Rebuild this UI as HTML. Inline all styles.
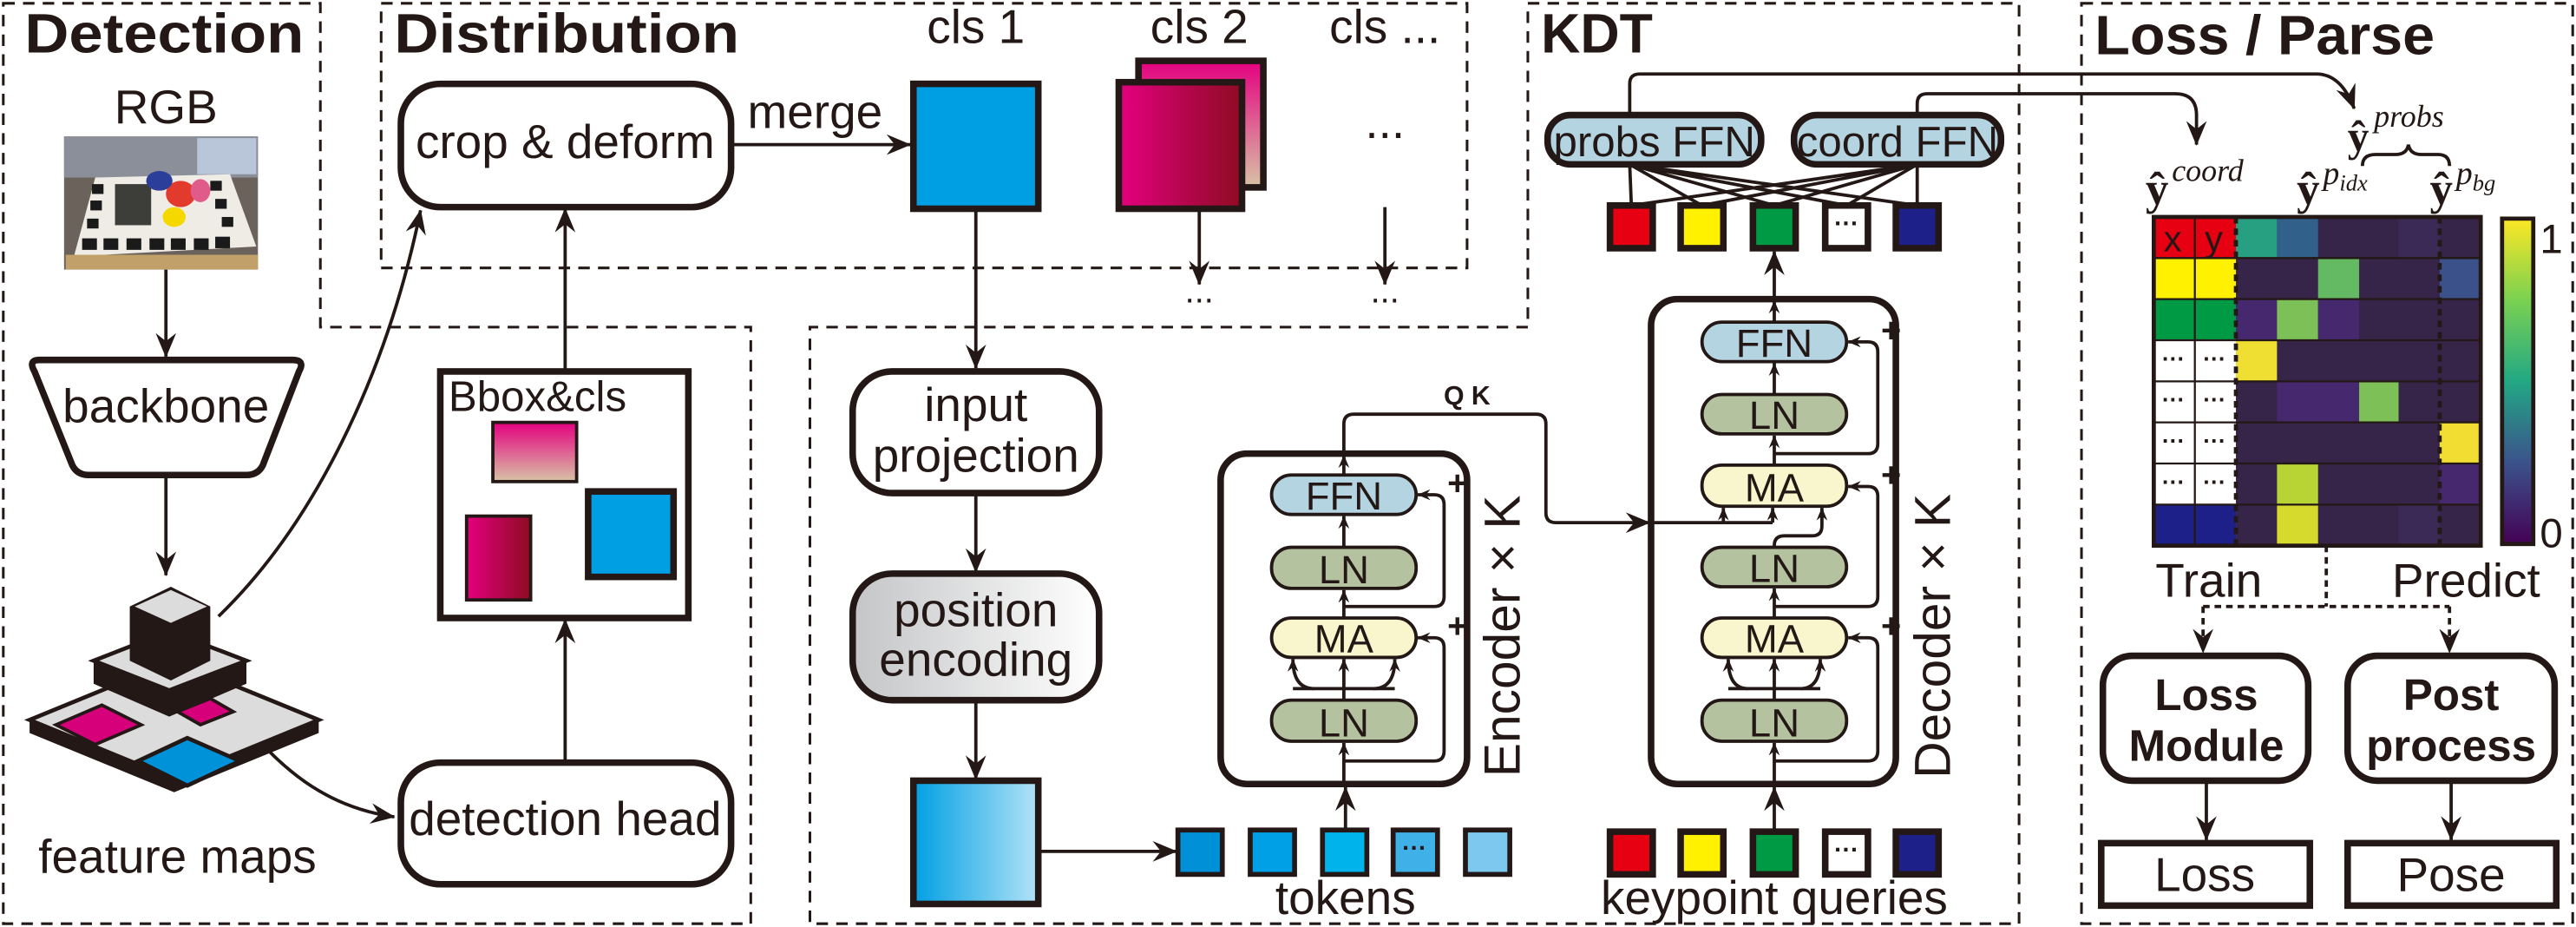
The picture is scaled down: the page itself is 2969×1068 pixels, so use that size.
<!DOCTYPE html>
<html><head><meta charset="utf-8"><style>
html,body{margin:0;padding:0;background:#fff}
svg{display:block}
text{font-family:"Liberation Sans",sans-serif;fill:#231815}
.t{font-weight:bold;font-size:34px}
.l{font-size:29px}
.b{font-size:21px}
.k{font-size:24px}
.p{font-size:21px;font-weight:bold}
</style></head><body>
<svg width="2969" height="1068" viewBox="0 0 1568 564" xmlns="http://www.w3.org/2000/svg">
<defs>
<marker id="a" viewBox="0 0 12 10" refX="11.5" refY="5" markerWidth="15" markerHeight="13" markerUnits="userSpaceOnUse" orient="auto"><path d="M0,0 L12,5 L0,10 L4,5z" fill="#231815"/></marker>
<marker id="s" viewBox="0 0 12 10" refX="11.5" refY="5" markerWidth="8" markerHeight="7" markerUnits="userSpaceOnUse" orient="auto"><path d="M0,0 L12,5 L0,10 L4,5z" fill="#231815"/></marker>
<linearGradient id="gm" x1="0" y1="0" x2="1" y2="0"><stop offset="0" stop-color="#e4007f"/><stop offset="1" stop-color="#8e0b22"/></linearGradient>
<linearGradient id="gt" x1="0" y1="0" x2="0" y2="1"><stop offset="0" stop-color="#e4007f"/><stop offset="1" stop-color="#d8c3a6"/></linearGradient>
<linearGradient id="gb" x1="0" y1="0" x2="1" y2="0"><stop offset="0" stop-color="#009fe3"/><stop offset="1" stop-color="#b3e3f7"/></linearGradient>
<linearGradient id="gp" x1="0" y1="0" x2="1" y2="0"><stop offset="0" stop-color="#c4c5c7"/><stop offset="1" stop-color="#fff"/></linearGradient>
<linearGradient id="gv" x1="0" y1="0" x2="0" y2="1"><stop offset="0" stop-color="#fde725"/><stop offset=".25" stop-color="#7ad151"/><stop offset=".5" stop-color="#22a884"/><stop offset=".75" stop-color="#3b528b"/><stop offset="1" stop-color="#440154"/></linearGradient>
</defs>
<g fill="none" stroke="#231815" stroke-width="1.6" stroke-dasharray="7,5">
<path d="M2,2 H195 V199 H457 V562 H2 Z"/>
<rect x="232" y="2" width="661" height="161"/>
<path d="M930,2 H1229 V562 H493 V199 H930 Z"/>
<rect x="1267" y="2" width="299" height="560"/>
</g>
<text class="t" x="15" y="32" textLength="170" lengthAdjust="spacingAndGlyphs">Detection</text>
<text class="t" x="240" y="32" textLength="210" lengthAdjust="spacingAndGlyphs">Distribution</text>
<text class="t" x="938" y="32" textLength="68" lengthAdjust="spacingAndGlyphs">KDT</text>
<text class="t" x="1275" y="33" textLength="207" lengthAdjust="spacingAndGlyphs">Loss / Parse</text>

<!-- Detection -->
<text class="l" x="101" y="75" text-anchor="middle">RGB</text>
<g>
<rect x="39" y="83" width="118" height="81" fill="#6b625c"/>
<rect x="39" y="83" width="118" height="25" fill="#8a8f99"/>
<rect x="120" y="84" width="36" height="22" fill="#b9c5d8"/>
<polygon points="58,108 140,106 156,150 45,156" fill="#efece6"/>
<g fill="#1a1a1a"><rect x="50" y="145" width="9" height="7"/><rect x="63" y="145" width="9" height="7"/><rect x="77" y="145" width="9" height="7"/><rect x="91" y="145" width="9" height="7"/><rect x="104" y="145" width="9" height="7"/><rect x="118" y="145" width="9" height="7"/><rect x="131" y="144" width="9" height="7"/><rect x="56" y="112" width="7" height="6"/><rect x="55" y="122" width="7" height="6"/><rect x="53" y="133" width="7" height="6"/><rect x="128" y="110" width="7" height="6"/><rect x="131" y="121" width="7" height="6"/><rect x="135" y="132" width="7" height="6"/></g>
<rect x="70" y="112" width="22" height="25" fill="#3d3d3a"/>
<ellipse cx="110" cy="118" rx="9" ry="8" fill="#e23a2c"/>
<ellipse cx="106" cy="132" rx="7" ry="6" fill="#f5d800"/>
<ellipse cx="97" cy="110" rx="8" ry="6" fill="#2b3f9a"/>
<ellipse cx="122" cy="116" rx="6" ry="7" fill="#e05a8a"/>
<rect x="40" y="155" width="117" height="9" fill="#c2a06a"/>
</g>
<g stroke="#231815" stroke-width="2" fill="none">
<path d="M101,164 V217" marker-end="url(#a)"/>
<path d="M101,289 V350" marker-end="url(#a)"/>
<path d="M133,375 C190,320 235,230 256,128" marker-end="url(#a)"/>
<path d="M158,451 C180,475 205,492 240,497" marker-end="url(#a)"/>
<path d="M344,226 V127" marker-end="url(#a)"/>
<path d="M344,464 V377" marker-end="url(#a)"/>
<path d="M445,88 H554" marker-end="url(#a)"/>
<path d="M594,127 V224" marker-end="url(#a)"/>
<path d="M730,127 V173" marker-end="url(#a)"/>
<path d="M843,126 V173" marker-end="url(#a)"/>
<path d="M594,300 V348" marker-end="url(#a)"/>
<path d="M594,426 V474" marker-end="url(#a)"/>
<path d="M632,518 H716" marker-end="url(#a)"/>
</g>
<path d="M24,219 H178 Q186,219 182,226 L160,283 Q157,289 150,289 H54 Q47,289 44,283 L21,226 Q17,219 24,219 Z" fill="#fff" stroke="#231815" stroke-width="4"/>
<text class="l" x="101" y="257" text-anchor="middle">backbone</text>
<!-- feature maps -->
<polygon points="18,438 106,402 194,438 194,446 106,482 18,446" fill="#231815"/>
<polygon points="18,438 106,402 194,438 106,474" fill="#dcdcdc" stroke="#231815" stroke-width="2.5"/>
<polygon points="34,441 62,429 86,441 58,453" fill="#d6007a" stroke="#231815" stroke-width="2"/>
<polygon points="108,433 128,425 142,433 122,441" fill="#d6007a" stroke="#231815" stroke-width="2"/>
<polygon points="84,463 114,449 146,463 114,478" fill="#0092d8" stroke="#231815" stroke-width="2.5"/>
<polygon points="57,402 103,384 150,402 150,416 103,436 57,416" fill="#231815"/>
<polygon points="57,402 103,384 150,402 103,420" fill="#dcdcdc" stroke="#231815" stroke-width="2.5"/>
<polygon points="79,369 104,357 128,369 128,402 104,414 79,402" fill="#231815"/>
<polygon points="82,369 104,359 126,369 104,379" fill="#dcdcdc"/>
<text class="l" x="108" y="531" text-anchor="middle">feature maps</text>

<!-- Distribution -->
<rect x="244" y="51" width="201" height="75" rx="24" fill="#fff" stroke="#231815" stroke-width="4"/>
<text class="l" x="344" y="96" text-anchor="middle">crop &amp; deform</text>
<text class="l" x="455" y="78">merge</text>
<text class="l" x="594" y="26" text-anchor="middle">cls 1</text>
<text class="l" x="730" y="26" text-anchor="middle">cls 2</text>
<text class="l" x="843" y="26" text-anchor="middle">cls ...</text>
<text class="l" x="843" y="84" text-anchor="middle">...</text>
<text class="b" x="730" y="184" text-anchor="middle">...</text>
<text class="b" x="843" y="184" text-anchor="middle">...</text>
<rect x="556" y="51" width="76" height="76" fill="#009fe3" stroke="#231815" stroke-width="4"/>
<rect x="693" y="37" width="76" height="77" fill="url(#gt)" stroke="#231815" stroke-width="4"/>
<rect x="681" y="50" width="75" height="77" fill="url(#gm)" stroke="#231815" stroke-width="4"/>

<rect x="268" y="226" width="151" height="150" fill="#fff" stroke="#231815" stroke-width="4"/>
<text x="273" y="250" style="font-size:26px">Bbox&amp;cls</text>
<rect x="300" y="257" width="51" height="36" fill="url(#gt)" stroke="#231815" stroke-width="2"/>
<rect x="284" y="314" width="39" height="51" fill="url(#gm)" stroke="#231815" stroke-width="2"/>
<rect x="358" y="299" width="52" height="52" fill="#009fe3" stroke="#231815" stroke-width="4"/>
<rect x="244" y="464" width="201" height="74" rx="24" fill="#fff" stroke="#231815" stroke-width="4"/>
<text class="l" x="344" y="508" text-anchor="middle">detection head</text>

<!-- middle -->
<rect x="519" y="226" width="150" height="74" rx="24" fill="#fff" stroke="#231815" stroke-width="4"/>
<text class="l" x="594" y="256" text-anchor="middle">input</text>
<text class="l" x="594" y="287" text-anchor="middle">projection</text>
<rect x="519" y="349" width="150" height="77" rx="24" fill="url(#gp)" stroke="#231815" stroke-width="4"/>
<text class="l" x="594" y="381" text-anchor="middle">position</text>
<text class="l" x="594" y="411" text-anchor="middle">encoding</text>
<rect x="556" y="475" width="76" height="75" fill="url(#gb)" stroke="#231815" stroke-width="4"/>
<g stroke="#231815" stroke-width="3">
<rect x="717" y="505" width="27" height="27" fill="#0090d8"/>
<rect x="761" y="505" width="27" height="27" fill="#00a0e6"/>
<rect x="805" y="505" width="27" height="27" fill="#00b4eb"/>
<rect x="848" y="505" width="27" height="27" fill="#40b0e8"/>
<rect x="892" y="505" width="27" height="27" fill="#7dc8ef"/>
</g>
<text x="861" y="521" text-anchor="middle" style="font-size:15px;font-weight:bold">···</text>
<text class="l" x="819" y="556" text-anchor="middle">tokens</text>

<!-- Encoder -->
<rect x="743" y="276" width="150" height="201" rx="16" fill="#fff" stroke="#231815" stroke-width="4"/>
<g stroke="#231815" stroke-width="2" fill="none">
<path d="M819,505 V479" marker-end="url(#a)"/>
<path d="M818,477 V452" marker-end="url(#s)"/>
<path d="M818,426 V401" marker-end="url(#s)"/>
<path d="M800,419 Q787,419 787,401" marker-end="url(#s)"/>
<path d="M836,419 Q849,419 849,401" marker-end="url(#s)"/>
<path d="M787,419 H849"/>
<path d="M818,376 V359" marker-end="url(#s)"/>
<path d="M818,333 V314" marker-end="url(#s)"/>
<path d="M818,289 V277" marker-end="url(#s)"/>
<path d="M818,277 V258 Q818,252 824,252 H935 Q941,252 941,258 V312 Q941,318 947,318 H1004" marker-end="url(#a)"/>
<path d="M818,463 H873 Q879,463 879,457 V394 Q879,388 873,388 H863" marker-end="url(#s)"/>
<path d="M818,369 H873 Q879,369 879,363 V307 Q879,301 873,301 H863" marker-end="url(#s)"/>
</g>
<g stroke="#231815" stroke-width="2">
<rect x="774" y="289" width="88" height="24" rx="12" fill="#b4d4e1"/>
<rect x="774" y="333" width="88" height="25" rx="12" fill="#b5c29f"/>
<rect x="774" y="376" width="88" height="24" rx="12" fill="#f9f5cd"/>
<rect x="774" y="426" width="88" height="25" rx="12" fill="#b5c29f"/>
</g>
<text class="k" x="818" y="310" text-anchor="middle">FFN</text>
<text class="k" x="818" y="355" text-anchor="middle">LN</text>
<text class="k" x="818" y="397" text-anchor="middle">MA</text>
<text class="k" x="818" y="448" text-anchor="middle">LN</text>
<text class="p" x="881" y="301">+</text>
<text class="p" x="881" y="388">+</text>
<text x="893" y="246" text-anchor="middle" style="font-size:16px;font-weight:bold">Q K</text>
<text transform="translate(925,387) rotate(-90)" text-anchor="middle" style="font-size:31px">Encoder × K</text>

<!-- Decoder -->
<rect x="1005" y="182" width="149" height="295" rx="16" fill="#fff" stroke="#231815" stroke-width="4"/>
<g stroke="#231815" stroke-width="2" fill="none">
<path d="M1080,505 V479" marker-end="url(#a)"/>
<path d="M1080,477 V452" marker-end="url(#s)"/>
<path d="M1080,426 V401" marker-end="url(#s)"/>
<path d="M1064,419 Q1052,419 1052,401" marker-end="url(#s)"/>
<path d="M1096,419 Q1108,419 1108,401" marker-end="url(#s)"/>
<path d="M1052,419 H1108"/>
<path d="M1080,376 V358" marker-end="url(#s)"/>
<path d="M1005,318 H1079"/>
<path d="M1049,318 V309" marker-end="url(#s)"/>
<path d="M1079,318 V309" marker-end="url(#s)"/>
<path d="M1080,333 V332 Q1080,326 1086,326 H1103 Q1109,326 1109,320 V309" marker-end="url(#s)"/>
<path d="M1080,283 V265" marker-end="url(#s)"/>
<path d="M1080,240 V221" marker-end="url(#s)"/>
<path d="M1080,196 V183" marker-end="url(#s)"/>
<path d="M1080,182 V153" marker-end="url(#a)"/>
<path d="M1080,463 H1137 Q1143,463 1143,457 V394 Q1143,388 1137,388 H1125" marker-end="url(#s)"/>
<path d="M1080,369 H1137 Q1143,369 1143,363 V302 Q1143,296 1137,296 H1125" marker-end="url(#s)"/>
<path d="M1080,276 H1137 Q1143,276 1143,270 V214 Q1143,208 1137,208 H1125" marker-end="url(#s)"/>
</g>
<g stroke="#231815" stroke-width="2">
<rect x="1036" y="196" width="88" height="24" rx="12" fill="#b4d4e1"/>
<rect x="1036" y="240" width="88" height="24" rx="12" fill="#b5c29f"/>
<rect x="1036" y="283" width="88" height="25" rx="12" fill="#f9f5cd"/>
<rect x="1036" y="333" width="88" height="24" rx="12" fill="#b5c29f"/>
<rect x="1036" y="376" width="88" height="24" rx="12" fill="#f9f5cd"/>
<rect x="1036" y="426" width="88" height="25" rx="12" fill="#b5c29f"/>
</g>
<text class="k" x="1080" y="217" text-anchor="middle">FFN</text>
<text class="k" x="1080" y="261" text-anchor="middle">LN</text>
<text class="k" x="1080" y="305" text-anchor="middle">MA</text>
<text class="k" x="1080" y="354" text-anchor="middle">LN</text>
<text class="k" x="1080" y="397" text-anchor="middle">MA</text>
<text class="k" x="1080" y="448" text-anchor="middle">LN</text>
<text class="p" x="1145" y="208">+</text>
<text class="p" x="1145" y="296">+</text>
<text class="p" x="1145" y="388">+</text>
<text transform="translate(1187,387) rotate(-90)" text-anchor="middle" style="font-size:31px">Decoder × K</text>

<!-- KDT outputs -->
<g stroke="#231815" stroke-width="2" fill="none">
<path d="M992,100 L993,125 M992,100 L1036,125 M992,100 L1080,125 M992,100 L1124,125 M992,100 L1167,125"/>
<path d="M1167,100 L993,125 M1167,100 L1036,125 M1167,100 L1080,125 M1167,100 L1124,125 M1167,100 L1167,125"/>
<path d="M992,70 V51 Q992,45 998,45 H1410 Q1425,45 1433,66" marker-end="url(#a)"/>
<path d="M1167,70 V63 Q1167,57 1173,57 H1324 Q1337,57 1337,70 V88" marker-end="url(#a)"/>
</g>
<rect x="942" y="70" width="130" height="30" rx="14" fill="#b4d4e1" stroke="#231815" stroke-width="4"/>
<rect x="1092" y="70" width="126" height="30" rx="14" fill="#b4d4e1" stroke="#231815" stroke-width="4"/>
<text x="1007" y="95" text-anchor="middle" style="font-size:26px">probs FFN</text>
<text x="1155" y="95" text-anchor="middle" style="font-size:26px">coord FFN</text>
<g stroke="#231815" stroke-width="4">
<rect x="980" y="125" width="26" height="26" fill="#e60012"/>
<rect x="1023" y="125" width="26" height="26" fill="#fff100"/>
<rect x="1067" y="125" width="26" height="26" fill="#009944"/>
<rect x="1111" y="125" width="26" height="26" fill="#fff"/>
<rect x="1154" y="125" width="26" height="26" fill="#1d2088"/>
<rect x="980" y="506" width="26" height="26" fill="#e60012"/>
<rect x="1023" y="506" width="26" height="26" fill="#fff100"/>
<rect x="1067" y="506" width="26" height="26" fill="#009944"/>
<rect x="1111" y="506" width="26" height="26" fill="#fff"/>
<rect x="1154" y="506" width="26" height="26" fill="#1d2088"/>
</g>
<text x="1124" y="141" text-anchor="middle" style="font-size:15px;font-weight:bold">···</text>
<text x="1124" y="522" text-anchor="middle" style="font-size:15px;font-weight:bold">···</text>
<text class="l" x="1080" y="556" text-anchor="middle">keypoint queries</text>

<!-- Loss / Parse -->
<text x="1306" y="124" style="font-family:'Liberation Serif',serif;font-size:28px;font-weight:bold">ŷ</text>
<text x="1322" y="110" style="font-family:'Liberation Serif',serif;font-size:19px;font-style:italic">coord</text>
<text x="1398" y="124" style="font-family:'Liberation Serif',serif;font-size:28px;font-weight:bold">ŷ</text>
<text x="1414" y="112" style="font-family:'Liberation Serif',serif;font-size:20px;font-style:italic">p<tspan dy="4" style="font-size:14px">idx</tspan></text>
<text x="1479" y="124" style="font-family:'Liberation Serif',serif;font-size:28px;font-weight:bold">ŷ</text>
<text x="1495" y="112" style="font-family:'Liberation Serif',serif;font-size:20px;font-style:italic">p<tspan dy="4" style="font-size:14px">bg</tspan></text>
<text x="1429" y="92" style="font-family:'Liberation Serif',serif;font-size:26px;font-weight:bold">ŷ</text>
<text x="1445" y="77" style="font-family:'Liberation Serif',serif;font-size:19px;font-style:italic">probs</text>
<path d="M1438,101 Q1438,94 1446,94 H1458 Q1465,94 1466,88 Q1467,94 1474,94 H1484 Q1491,94 1491,101" fill="none" stroke="#231815" stroke-width="2"/>
<g stroke="none">
<rect x="1311" y="132" width="50" height="200" fill="#372449"/>
<rect x="1311" y="132" width="50" height="25" fill="#e60012"/>
<rect x="1311" y="157" width="50" height="25" fill="#fff100"/>
<rect x="1311" y="182" width="50" height="25" fill="#009944"/>
<rect x="1311" y="207" width="50" height="100" fill="#fff"/>
<rect x="1311" y="307" width="50" height="25" fill="#1d2088"/>
<rect x="1361" y="132" width="149" height="200" fill="#372449"/>
<rect x="1361" y="132" width="25" height="25" fill="#26a081"/>
<rect x="1386" y="132" width="25" height="25" fill="#31608a"/>
<rect x="1460" y="132" width="25" height="25" fill="#3b2a55"/>
<rect x="1411" y="157" width="25" height="25" fill="#64b963"/>
<rect x="1485" y="157" width="25" height="25" fill="#3a518a"/>
<rect x="1361" y="182" width="25" height="25" fill="#45286e"/>
<rect x="1386" y="182" width="25" height="25" fill="#7ec058"/>
<rect x="1411" y="182" width="25" height="25" fill="#45286e"/>
<rect x="1361" y="207" width="25" height="25" fill="#efdf33"/>
<rect x="1386" y="232" width="50" height="25" fill="#45286e"/>
<rect x="1436" y="232" width="24" height="25" fill="#7ec058"/>
<rect x="1485" y="257" width="25" height="25" fill="#f2de33"/>
<rect x="1386" y="282" width="25" height="25" fill="#b7d334"/>
<rect x="1485" y="282" width="25" height="25" fill="#45286e"/>
<rect x="1386" y="307" width="25" height="25" fill="#d6da2d"/>
<rect x="1460" y="307" width="25" height="25" fill="#3b2a55"/>
</g>
<g stroke="#231815" stroke-width="1.2">
<path d="M1311,157 H1510 M1311,182 H1510 M1311,207 H1510 M1311,232 H1510 M1311,257 H1510 M1311,282 H1510 M1311,307 H1510 M1336,132 V332"/>
</g>
<g stroke="#231815" stroke-width="2.5" stroke-dasharray="4,3">
<path d="M1361,132 V332 M1485,132 V332"/>
</g>
<rect x="1311" y="132" width="199" height="200" fill="none" stroke="#231815" stroke-width="2.5"/>
<text x="1317" y="153" style="font-size:22px">x</text>
<text x="1342" y="153" style="font-size:22px">y</text>
<g style="font-size:14px;font-weight:bold" text-anchor="middle">
<text x="1323" y="223">···</text><text x="1348" y="223">···</text>
<text x="1323" y="248">···</text><text x="1348" y="248">···</text>
<text x="1323" y="273">···</text><text x="1348" y="273">···</text>
<text x="1323" y="298">···</text><text x="1348" y="298">···</text>
</g>
<rect x="1523" y="133" width="19" height="198" fill="url(#gv)" stroke="#231815" stroke-width="2.5"/>
<text x="1546" y="154" style="font-size:25px">1</text>
<text x="1546" y="333" style="font-size:25px">0</text>
<text class="l" x="1312" y="363">Train</text>
<text class="l" x="1456" y="363">Predict</text>
<g stroke="#231815" stroke-width="2" fill="none" stroke-dasharray="4,3">
<path d="M1416,332 V369 M1341,369 H1491"/>
<path d="M1341,369 V397" marker-end="url(#a)"/>
<path d="M1491,369 V397" marker-end="url(#a)"/>
</g>
<rect x="1280" y="399" width="125" height="76" rx="18" fill="#fff" stroke="#231815" stroke-width="4"/>
<rect x="1429" y="399" width="126" height="76" rx="18" fill="#fff" stroke="#231815" stroke-width="4"/>
<text x="1343" y="432" text-anchor="middle" style="font-size:27px;font-weight:bold">Loss</text>
<text x="1343" y="463" text-anchor="middle" style="font-size:27px;font-weight:bold">Module</text>
<text x="1492" y="432" text-anchor="middle" style="font-size:27px;font-weight:bold">Post</text>
<text x="1492" y="463" text-anchor="middle" style="font-size:27px;font-weight:bold">process</text>
<g stroke="#231815" stroke-width="2" fill="none">
<path d="M1343,475 V511" marker-end="url(#a)"/>
<path d="M1492,475 V511" marker-end="url(#a)"/>
</g>
<rect x="1279" y="513" width="127" height="38" fill="#fff" stroke="#231815" stroke-width="4"/>
<rect x="1429" y="513" width="127" height="38" fill="#fff" stroke="#231815" stroke-width="4"/>
<text class="l" x="1342" y="542" text-anchor="middle">Loss</text>
<text class="l" x="1492" y="542" text-anchor="middle">Pose</text>
</svg>
</body></html>
